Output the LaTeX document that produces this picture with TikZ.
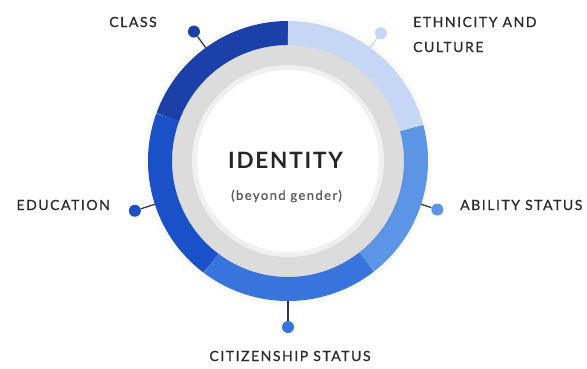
\documentclass[tikz,border=0pt]{standalone}
\usepackage{fontspec}
\setmainfont{Lato}
\newfontfamily\lblfont[LetterSpace=11,FakeBold=0.6]{Lato}
\newfontfamily\idfont[LetterSpace=8]{Lato}
\usetikzlibrary{positioning}

\definecolor{navy}{HTML}{1B40A8}
\definecolor{royal}{HTML}{1A50C8}
\definecolor{midblue}{HTML}{3874DC}
\definecolor{skyblue}{HTML}{5C95E6}
\definecolor{paleblue}{HTML}{C6D6F5}
\definecolor{ringgray}{HTML}{DCDCDC}
\definecolor{lbl}{HTML}{2A2A2A}
\definecolor{stem}{HTML}{2E3A52}

\tikzset{
  seg/.style={line width=24pt},
  pin/.style={circle, minimum size=12pt, inner sep=0pt},
  stemline/.style={stem, line width=1.3pt},
  lab/.style={inner sep=0pt, text=lbl, font=\lblfont\fontsize{14}{25}\selectfont}
}

\begin{document}
\begin{tikzpicture}[x=1pt,y=1pt]
		\useasboundingbox (-288,-207) rectangle (299,161);
		
		% soft halo and grey inner band
		\fill[gray!5] (0,0) circle [radius=144];
		\fill[ringgray] (0,0) circle [radius=117];
		\fill[gray!12] (0,0) circle [radius=96];
		\fill[white] (0,0) circle [radius=91];
		
		% coloured ring, one arc per part
		\draw[seg, navy] (90:128) arc [start angle=90, end angle=160, radius=128];
		\draw[seg, royal] (160:128) arc [start angle=160, end angle=233, radius=128];
		\draw[seg, midblue] (233:128) arc [start angle=233, end angle=308, radius=128];
		\draw[seg, skyblue] (308:128) arc [start angle=308, end angle=375, radius=128];
		\draw[seg, paleblue] (15:128) arc [start angle=15, end angle=90, radius=128];
		
		% pins round the ring
		\coordinate (c1) at (126:140);
		\coordinate (c2) at (54:140);
		\coordinate (c3) at (198:140);
		\coordinate (c4) at (342:140);
		\coordinate (c5) at (270:140);
		
		\node[pin, fill=navy] (class) at (126:160) {};
		\node[pin, fill=paleblue] (ethnic) at (54:158) {};
		\node[pin, fill=royal] (educ) at (198:161) {};
		\node[pin, fill=skyblue] (abil) at (342:157) {};
		\node[pin, fill=midblue] (citiz) at (270:166) {};
		
		\draw[stemline] (c1) -- (class);
		\draw[stemline, paleblue] (c2) -- (ethnic);
		\draw[stemline] (c3) -- (educ);
		\draw[stemline] (c4) -- (abil);
		\draw[stemline] (c5) -- (citiz);
		
		% labels
		\node[lab] (classlab) at (-155,139) {CLASS};
		\node[lab, anchor=west, align=left] (ethniclab) at (125,126.5) {ETHNICITY AND\\CULTURE};
		\node[lab, anchor=east] (educlab) at (-178,-44) {EDUCATION};
		\node[lab, anchor=west] (abillab) at (172,-44) {ABILITY STATUS};
		\node[lab] (citizlab) at (2,-195) {CITIZENSHIP STATUS};
		
		\node[inner sep=0pt, text=black!85, font=\idfont\bfseries\fontsize{22.5}{24}\selectfont] (identity) at (-2.5,1) {IDENTITY};
		\node[inner sep=0pt, text=black!65, font=\lblfont\fontsize{13}{15}\selectfont] (beyond) at (-1.5,-35) {(beyond gender)};
\end{tikzpicture}
\end{document}
